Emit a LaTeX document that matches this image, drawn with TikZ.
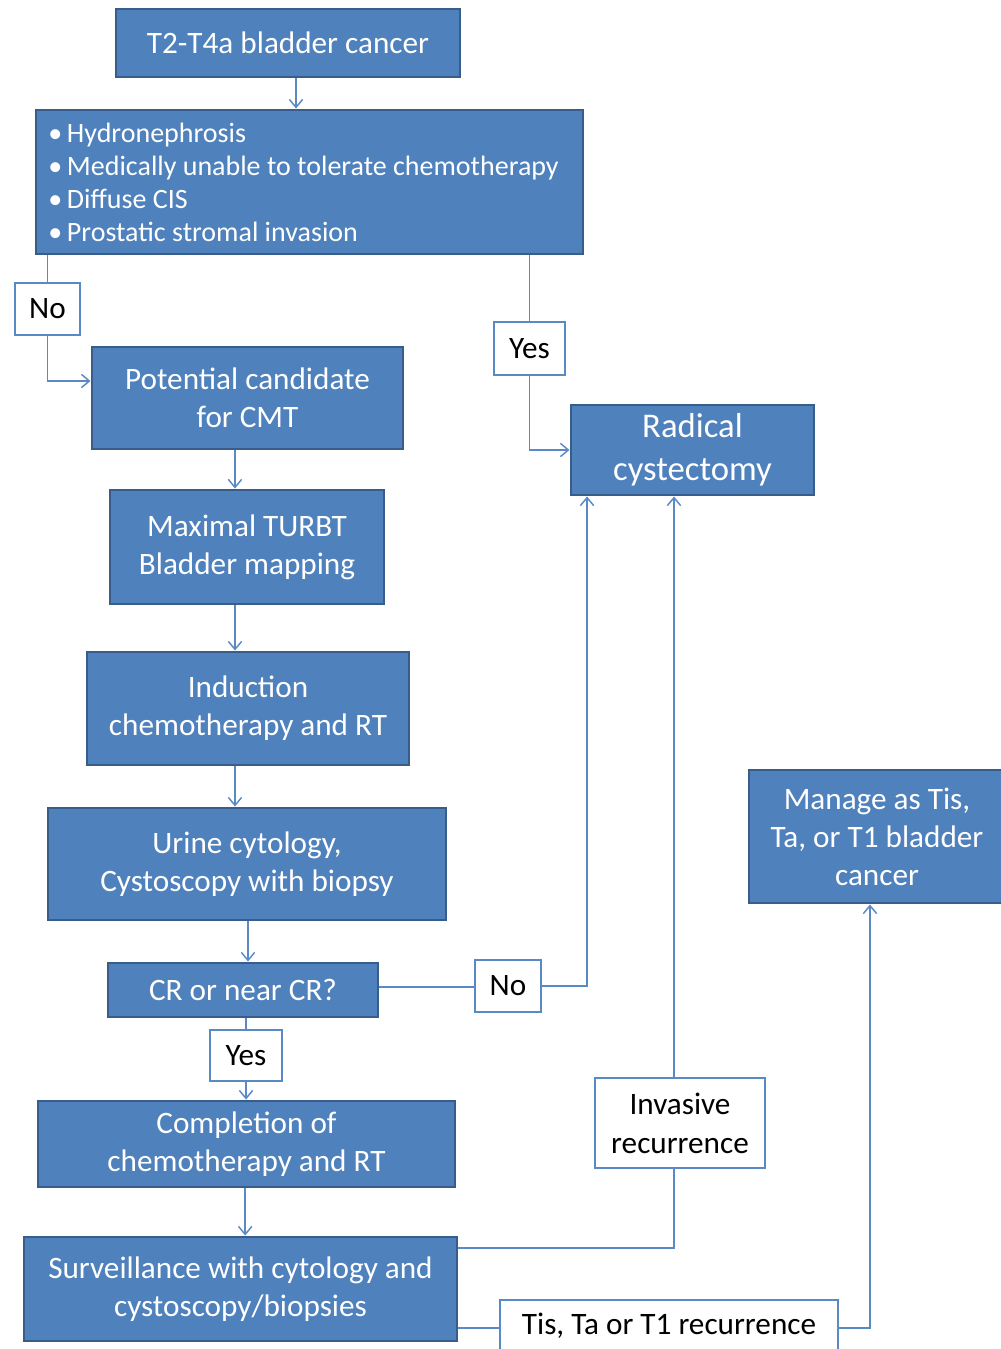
\documentclass[tikz,border=0pt]{standalone}
\usepackage{fontspec}
\setmainfont{Carlito}
\usetikzlibrary{arrows.meta,calc}
\definecolor{boxfill}{HTML}{4F81BD}
\definecolor{boxline}{HTML}{385D8A}
\definecolor{connc}{HTML}{5A8AC6}
\begin{document}
\begin{tikzpicture}[x=0.75pt,y=-0.75pt,
  blk/.style={draw=boxline, line width=2.2pt, fill=boxfill, text=white, align=center,
    font=\fontsize{23.4}{28.5}\selectfont, inner sep=0pt},
  lab/.style={draw=connc, line width=1.2pt, fill=white, text=black, align=center,
    font=\fontsize{23.4}{29}\selectfont, inner sep=0pt},
  sz/.style 2 args={minimum width=#1*0.75pt, minimum height=#2*0.75pt},
  link/.style={draw=connc, line width=1.1pt},
  arr/.style={link, -{Straight Barb[length=6pt,width=10pt]}}]
\useasboundingbox (0,0) rectangle (1000,1349);

\node[blk, sz={547}{144}, align=left,
  font=\fontsize{21}{24.75}\selectfont] (crit) at (309.5,182)
  {\makebox[14pt][l]{•}Hydronephrosis\\
   \makebox[14pt][l]{•}Medically unable to tolerate chemotherapy\rule{9pt}{0pt}\\
   \makebox[14pt][l]{•}Diffuse CIS\\
   \makebox[14pt][l]{•}Prostatic stromal invasion};
\node[blk, sz={344}{68}] (t2) at (288,43) {T2-T4a bladder cancer};
\node[blk, sz={311}{102}] (pot) at (247.5,398) {Potential candidate\\for CMT};
\node[blk, sz={274}{114}] (turbt) at (247,547) {Maximal TURBT\\Bladder mapping};
\node[blk, sz={322}{113}] (ind) at (248,708.5) {Induction\\chemotherapy and RT};
\node[blk, sz={398}{112}] (urine) at (247,864) {Urine cytology,\\Cystoscopy with biopsy};
\node[blk, sz={270}{54}] (cr) at (243,990) {CR or near CR?};
\node[blk, sz={417}{86}] (comp) at (246.5,1144) {Completion of\\chemotherapy and RT};
\node[blk, sz={433}{104}] (surv) at (240.5,1289) {Surveillance with cytology and\\cystoscopy/biopsies};
\node[blk, sz={243}{90}, font=\fontsize{26}{32}\selectfont] (rad) at (692.5,450) {Radical\\cystectomy};
\node[blk, sz={256}{133}] (man) at (877,836.5) {Manage as Tis,\\Ta, or T1 bladder\\cancer};

\node[lab, sz={65}{52}] (no1) at (47.5,309) {No};
\node[lab, sz={71}{53}] (yes1) at (529.5,348.5) {Yes};
\node[lab, sz={66}{52}] (no2) at (508,986) {No};
\node[lab, sz={72}{51}] (yes2) at (246,1055.5) {Yes};
\node[lab, sz={170}{90}, font=\fontsize{23.4}{29.25}\selectfont] (inv) at (680,1123) {Invasive\\recurrence};
\node[lab, sz={338}{52}] (tis) at (669,1326) {Tis, Ta or T1 recurrence};

% connectors
\draw[arr] ([xshift=6pt]t2.south) -- ([xshift=6pt]t2.south |- crit.north);
\draw[link] (crit.south -| no1) -- (no1);
\draw[arr] (no1) |- ([yshift=12.75pt]pot.west);
\draw[link] (crit.south -| yes1) -- (yes1);
\draw[arr] (yes1) |- (rad.west);
\draw[arr] ([xshift=-9.4pt]pot.south) -- ([xshift=-9.4pt]pot.south |- turbt.north);
\draw[arr] ([xshift=-9pt]turbt.south) -- ([xshift=-9pt]turbt.south |- ind.north);
\draw[arr] ([xshift=-9.75pt]ind.south) -- ([xshift=-9.75pt]ind.south |- urine.north);
\draw[arr] ([xshift=0.75pt]urine.south) -- ([xshift=0.75pt]urine.south |- cr.north);
\draw[link] ([yshift=2.25pt]cr.east) -- ([yshift=2.25pt]cr.east -| no2.west);
\draw[arr] (no2.east) -| ([xshift=-79.1pt]rad.south);
\draw[link] (cr.south -| yes2) -- (yes2);
\draw[arr] (yes2) -- (yes2 |- comp.north);
\draw[arr] ([xshift=-1pt]comp.south) -- ([xshift=-1pt]comp.south |- surv.north);
\draw[link] ([yshift=30.75pt]surv.east) -| ([xshift=-4.5pt]inv.south);
\draw[arr] ([xshift=-4.5pt]inv.north) -- ([xshift=-4.5pt]inv.north |- rad.south);
\draw[link] ([yshift=-29.25pt]surv.east) -- ([yshift=-29.25pt]surv.east -| tis.west);
\draw[arr] ([yshift=-1.5pt]tis.east) -| ([xshift=-5.25pt]man.south);
\end{tikzpicture}
\end{document}
